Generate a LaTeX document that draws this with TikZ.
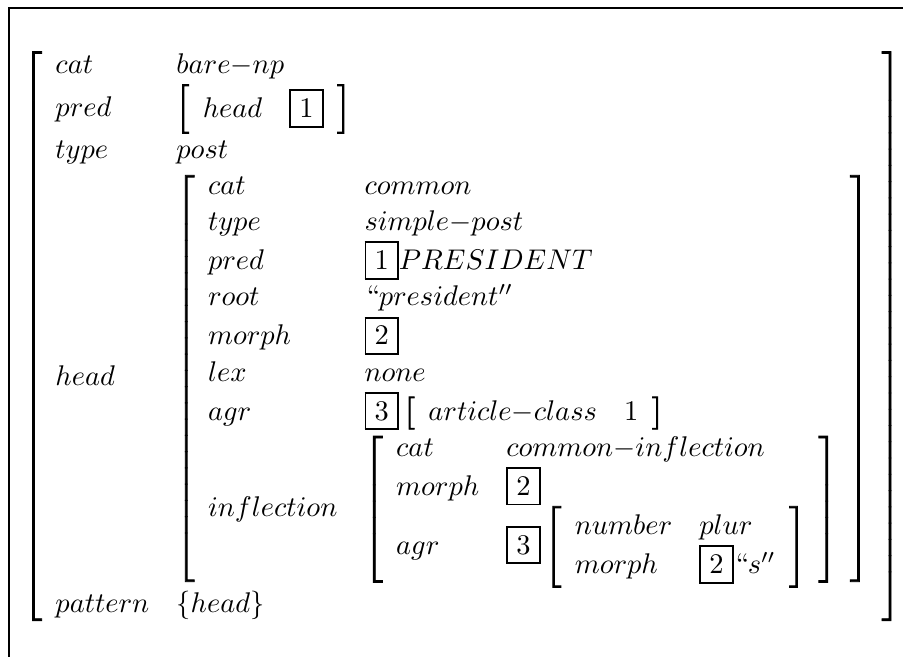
\documentclass[tikz,border=0pt]{standalone}
\usepackage{fix-cm}
\usepackage{array}
\newsavebox\avmbox
\newdimen\pxu
\setlength\fboxrule{0.7pt}
\renewcommand\arraystretch{1.055}
% boxed co-reference tag
\newcommand\tagbox[1]{\fbox{$#1$}}
% bracket glyphs are filled and stroked (heavier), cell text is only filled
\newcommand\heavyglyphs{\special{pdf:literal direct 2 Tr 0.32 w}}
\newcommand\plainglyphs{\special{pdf:literal direct 0 Tr}}
\newcolumntype{A}{>{\plainglyphs}l<{\heavyglyphs}}
\newcommand\fs[1]{\heavyglyphs\left[\begin{array}{AA}#1\end{array}\right]}
\begin{document}
\begin{tikzpicture}
% typeset the feature structure once, then size the canvas from its width
\sbox\avmbox{\fontsize{10.5}{12.6}\selectfont$\fs{
cat & bare{-}np\\
pred & \fs{head & \tagbox{1}}\\
type & post\\
head & \fs{
  cat & common\\
  type & simple{-}post\\
  pred & \tagbox{1}PRESIDENT\\
  root & ``president''\\
  morph & \tagbox{2}\\
  lex & none\\
  agr & \tagbox{3}\fs{article{-}class & 1}\\
  inflection & \fs{
     cat & common{-}inflection\\
     morph & \tagbox{2}\\
     agr & \tagbox{3}\fs{number & plur\\ morph & \tagbox{2}``s''}}}\\
pattern & \{head\}}\plainglyphs$}
\pxu=\wd\avmbox
\divide\pxu by 876
\begin{scope}[x=\pxu,y=-\pxu]
  \useasboundingbox (0,0) rectangle (903,657);
  % frame: only its top and left edges fall inside the canvas
  \coordinate (fbl) at (9.5,657);
  \coordinate (ftl) at (9.5,7.5);
  \coordinate (ftr) at (903,7.5);
  \draw[line width=2\pxu] (fbl) -- (ftl) -- (ftr);
  \node[inner sep=0pt, anchor=north west] (avm) at (23.3,48) {\usebox\avmbox};
\end{scope}
\end{tikzpicture}
\end{document}
